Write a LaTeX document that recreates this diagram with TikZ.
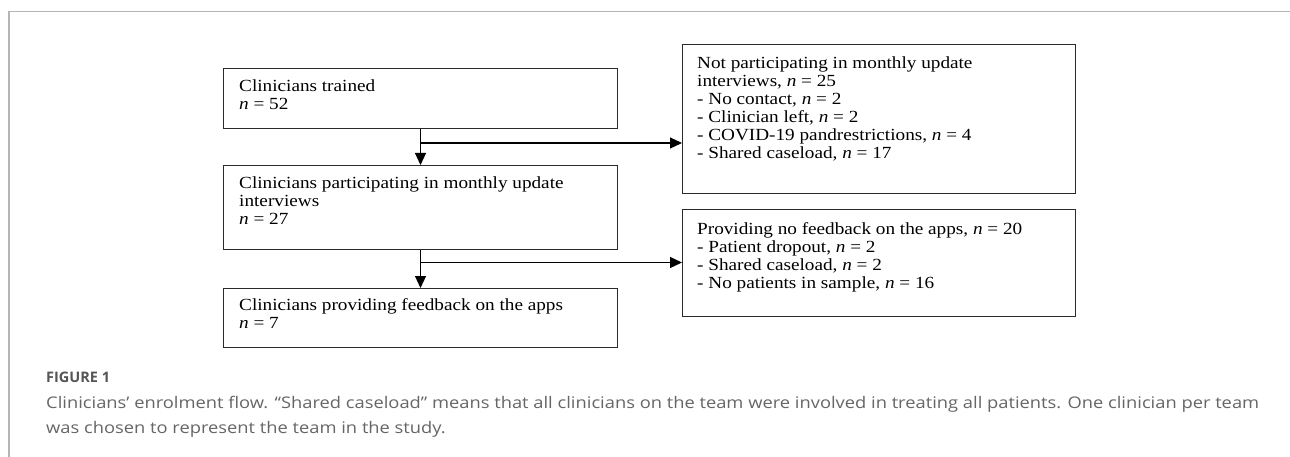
\documentclass[tikz,border=0pt]{standalone}
\usepackage{fontspec}
\usepackage{graphicx}
\setmainfont{Liberation Serif}
\newfontfamily\flowfont[FakeStretch=1.13]{Liberation Serif}
\newfontfamily\capfont{Open Sans}
\usetikzlibrary{arrows.meta}
\definecolor{framegray}{HTML}{B4B4B4}
\definecolor{captiongray}{HTML}{666666}
\definecolor{figgray}{HTML}{555555}
\definecolor{boxline}{HTML}{2A2A2A}
\newsavebox\caplinebox
\newcommand\caplineone{Clinicians’ enrolment flow. “Shared caseload” means that all clinicians on the team were involved in treating all patients. One clinician per team}
\begin{document}
\sbox\caplinebox{\capfont\fontsize{16}{18}\selectfont\caplineone}%
\pgfmathsetmacro\capscale{1213/\the\wd\caplinebox}%
\begin{tikzpicture}[x=1pt,y=-1pt,
  flowbox/.style={draw=boxline, line width=1pt, anchor=north west, inner sep=0pt},
  flowtext/.style={anchor=north west, inner sep=0pt, align=left, font=\flowfont\fontsize{17}{18}\selectfont},
  flowarrow/.style={draw=black, line width=1.2pt, -{Triangle[length=12pt,width=11pt]}},
  captext/.style={anchor=base west, inner sep=0pt, text=captiongray, font=\capfont\fontsize{16}{18}\selectfont}
]
\useasboundingbox (0,0) rectangle (1290,457);
\fill[white] (0,0) rectangle (1290,457);
\draw[framegray, line width=1.5pt] (9,457) -- (9,11.5) -- (1290,11.5);

% left column
\node[flowbox, minimum width=394pt, minimum height=60pt] (b1) at (223,68) {};
\node[flowtext] (t1) at ([xshift=16pt, yshift=-12pt]b1.north west) {Clinicians trained\\\textit{n} = 52};
\node[flowbox, minimum width=394pt, minimum height=84pt] (b2) at (223,165) {};
\node[flowtext] (t2) at ([xshift=16pt, yshift=-12pt]b2.north west) {Clinicians participating in monthly update\\interviews\\\textit{n} = 27};
\node[flowbox, minimum width=394pt, minimum height=59pt] (b3) at (223,288) {};
\node[flowtext] (t3) at ([xshift=16pt, yshift=-10pt]b3.north west) {Clinicians providing feedback on the apps\\\textit{n} = 7};

% right column
\node[flowbox, minimum width=393pt, minimum height=149pt] (r1) at (682,44) {};
\node[flowtext] (s1) at ([xshift=15pt, yshift=-13pt]r1.north west) {Not participating in monthly update\\interviews, \textit{n} = 25\\- No contact, \textit{n} = 2\\- Clinician left, \textit{n} = 2\\- COVID-19 pandrestrictions, \textit{n} = 4\\- Shared caseload, \textit{n} = 17};
\node[flowbox, minimum width=393pt, minimum height=107pt] (r2) at (682,209) {};
\node[flowtext] (s2) at ([xshift=15pt, yshift=-13pt]r2.north west) {Providing no feedback on the apps, \textit{n} = 20\\- Patient dropout, \textit{n} = 2\\- Shared caseload, \textit{n} = 2\\- No patients in sample, \textit{n} = 16};

% connectors
\coordinate (j1) at (420,143);
\coordinate (j2) at (420,262.5);
\draw[flowarrow] (b1.south) -- (b2.north);
\draw[flowarrow] (j1) -- (j1 -| r1.west);
\draw[flowarrow] (b2.south) -- (b3.north);
\draw[flowarrow] (j2) -- (j2 -| r2.west);

% caption
\node[captext, text=figgray, font=\capfont\bfseries\fontsize{14.5}{16}\selectfont] (fig) at (46,382) {FIGURE 1};
\node[captext] (cap1) at (46,408) {\scalebox{\capscale}[1]{\caplineone}};
\node[captext] (cap2) at (46,433) {\scalebox{\capscale}[1]{was chosen to represent the team in the study.}};
\end{tikzpicture}
\end{document}
